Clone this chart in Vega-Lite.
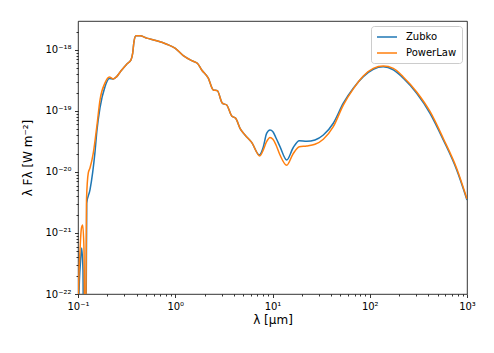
{
  "$schema": "https://vega.github.io/schema/vega-lite/v6.json",
  "width": 389,
  "height": 273,
  "autosize": {"type": "none"},
  "padding": {"left": 78, "top": 21, "right": 27, "bottom": 59},
  "background": "white",
  "config": {
    "view": {"stroke": "black", "strokeWidth": 0.8},
    "font": "DejaVu Sans"
  },
  "data": {
    "values": [
      {"lam": 0.1, "F": 1e-24, "s": "Zubko"},
      {"lam": 0.1024, "F": 1e-22, "s": "Zubko"},
      {"lam": 0.1061, "F": 3.35e-22, "s": "Zubko"},
      {"lam": 0.1091, "F": 5.68e-22, "s": "Zubko"},
      {"lam": 0.1125, "F": 2.47e-22, "s": "Zubko"},
      {"lam": 0.115, "F": 1e-24, "s": "Zubko"},
      {"lam": 0.1195, "F": 1e-24, "s": "Zubko"},
      {"lam": 0.1229, "F": 3.07e-21, "s": "Zubko"},
      {"lam": 0.1328, "F": 5.07e-21, "s": "Zubko"},
      {"lam": 0.1496, "F": 2.13e-20, "s": "Zubko"},
      {"lam": 0.1568, "F": 4.89e-20, "s": "Zubko"},
      {"lam": 0.1683, "F": 1.12e-19, "s": "Zubko"},
      {"lam": 0.1895, "F": 2.5e-19, "s": "Zubko"},
      {"lam": 0.2099, "F": 3.4e-19, "s": "Zubko"},
      {"lam": 0.2307, "F": 3.35e-19, "s": "Zubko"},
      {"lam": 0.25, "F": 3.65e-19, "s": "Zubko"},
      {"lam": 0.2703, "F": 4.31e-19, "s": "Zubko"},
      {"lam": 0.2922, "F": 5.01e-19, "s": "Zubko"},
      {"lam": 0.3168, "F": 5.83e-19, "s": "Zubko"},
      {"lam": 0.3508, "F": 6.86e-19, "s": "Zubko"},
      {"lam": 0.3651, "F": 8.83e-19, "s": "Zubko"},
      {"lam": 0.3765, "F": 1.37e-18, "s": "Zubko"},
      {"lam": 0.3948, "F": 1.7e-18, "s": "Zubko"},
      {"lam": 0.4341, "F": 1.7e-18, "s": "Zubko"},
      {"lam": 0.5085, "F": 1.56e-18, "s": "Zubko"},
      {"lam": 0.6447, "F": 1.41e-18, "s": "Zubko"},
      {"lam": 0.8167, "F": 1.24e-18, "s": "Zubko"},
      {"lam": 0.994, "F": 1.07e-18, "s": "Zubko"},
      {"lam": 1.21, "F": 8.07e-19, "s": "Zubko"},
      {"lam": 1.476, "F": 6.68e-19, "s": "Zubko"},
      {"lam": 1.686, "F": 6.05e-19, "s": "Zubko"},
      {"lam": 1.871, "F": 4.7e-19, "s": "Zubko"},
      {"lam": 2.187, "F": 3.44e-19, "s": "Zubko"},
      {"lam": 2.462, "F": 2.21e-19, "s": "Zubko"},
      {"lam": 2.707, "F": 2.15e-19, "s": "Zubko"},
      {"lam": 3.047, "F": 1.34e-19, "s": "Zubko"},
      {"lam": 3.381, "F": 1.25e-19, "s": "Zubko"},
      {"lam": 3.806, "F": 8.28e-20, "s": "Zubko"},
      {"lam": 4.183, "F": 7.59e-20, "s": "Zubko"},
      {"lam": 4.633, "F": 5.2e-20, "s": "Zubko"},
      {"lam": 5.214, "F": 4.04e-20, "s": "Zubko"},
      {"lam": 6.11, "F": 3.05e-20, "s": "Zubko"},
      {"lam": 7.316, "F": 1.9e-20, "s": "Zubko"},
      {"lam": 8.044, "F": 2.57e-20, "s": "Zubko"},
      {"lam": 8.7, "F": 4.3e-20, "s": "Zubko"},
      {"lam": 9.425, "F": 4.89e-20, "s": "Zubko"},
      {"lam": 10.1, "F": 4.58e-20, "s": "Zubko"},
      {"lam": 10.87, "F": 3.61e-20, "s": "Zubko"},
      {"lam": 11.94, "F": 2.6e-20, "s": "Zubko"},
      {"lam": 14.0, "F": 1.57e-20, "s": "Zubko"},
      {"lam": 16.25, "F": 2.47e-20, "s": "Zubko"},
      {"lam": 18.86, "F": 3.26e-20, "s": "Zubko"},
      {"lam": 22.47, "F": 3.18e-20, "s": "Zubko"},
      {"lam": 27.35, "F": 3.35e-20, "s": "Zubko"},
      {"lam": 33.31, "F": 4.04e-20, "s": "Zubko"},
      {"lam": 42.19, "F": 6.29e-20, "s": "Zubko"},
      {"lam": 53.46, "F": 1.34e-19, "s": "Zubko"},
      {"lam": 67.73, "F": 2.36e-19, "s": "Zubko"},
      {"lam": 85.85, "F": 3.65e-19, "s": "Zubko"},
      {"lam": 108.8, "F": 4.83e-19, "s": "Zubko"},
      {"lam": 137.8, "F": 5.3e-19, "s": "Zubko"},
      {"lam": 174.7, "F": 4.7e-19, "s": "Zubko"},
      {"lam": 221.3, "F": 3.44e-19, "s": "Zubko"},
      {"lam": 303.9, "F": 1.95e-19, "s": "Zubko"},
      {"lam": 416.4, "F": 9.16e-20, "s": "Zubko"},
      {"lam": 570.5, "F": 3.35e-20, "s": "Zubko"},
      {"lam": 783.8, "F": 1.08e-20, "s": "Zubko"},
      {"lam": 1000, "F": 3.48e-21, "s": "Zubko"},

      {"lam": 0.1, "F": 1e-24, "s": "PowerLaw"},
      {"lam": 0.1012, "F": 1e-22, "s": "PowerLaw"},
      {"lam": 0.1049, "F": 5.26e-22, "s": "PowerLaw"},
      {"lam": 0.1086, "F": 1.21e-21, "s": "PowerLaw"},
      {"lam": 0.1117, "F": 1.35e-21, "s": "PowerLaw"},
      {"lam": 0.1153, "F": 5.26e-22, "s": "PowerLaw"},
      {"lam": 0.1189, "F": 1e-24, "s": "PowerLaw"},
      {"lam": 0.1223, "F": 3.48e-21, "s": "PowerLaw"},
      {"lam": 0.1276, "F": 9.63e-21, "s": "PowerLaw"},
      {"lam": 0.1328, "F": 1.16e-20, "s": "PowerLaw"},
      {"lam": 0.1437, "F": 2.05e-20, "s": "PowerLaw"},
      {"lam": 0.1568, "F": 5.89e-20, "s": "PowerLaw"},
      {"lam": 0.1683, "F": 1.51e-19, "s": "PowerLaw"},
      {"lam": 0.1895, "F": 2.88e-19, "s": "PowerLaw"},
      {"lam": 0.2099, "F": 3.61e-19, "s": "PowerLaw"},
      {"lam": 0.2307, "F": 3.35e-19, "s": "PowerLaw"},
      {"lam": 0.25, "F": 3.65e-19, "s": "PowerLaw"},
      {"lam": 0.2703, "F": 4.31e-19, "s": "PowerLaw"},
      {"lam": 0.2922, "F": 5.01e-19, "s": "PowerLaw"},
      {"lam": 0.3168, "F": 5.83e-19, "s": "PowerLaw"},
      {"lam": 0.3508, "F": 6.86e-19, "s": "PowerLaw"},
      {"lam": 0.3651, "F": 8.83e-19, "s": "PowerLaw"},
      {"lam": 0.3765, "F": 1.37e-18, "s": "PowerLaw"},
      {"lam": 0.3948, "F": 1.7e-18, "s": "PowerLaw"},
      {"lam": 0.4341, "F": 1.7e-18, "s": "PowerLaw"},
      {"lam": 0.5085, "F": 1.56e-18, "s": "PowerLaw"},
      {"lam": 0.6447, "F": 1.41e-18, "s": "PowerLaw"},
      {"lam": 0.8167, "F": 1.24e-18, "s": "PowerLaw"},
      {"lam": 0.994, "F": 1.07e-18, "s": "PowerLaw"},
      {"lam": 1.21, "F": 8.07e-19, "s": "PowerLaw"},
      {"lam": 1.476, "F": 6.68e-19, "s": "PowerLaw"},
      {"lam": 1.686, "F": 6.05e-19, "s": "PowerLaw"},
      {"lam": 1.871, "F": 4.7e-19, "s": "PowerLaw"},
      {"lam": 2.187, "F": 3.44e-19, "s": "PowerLaw"},
      {"lam": 2.462, "F": 2.21e-19, "s": "PowerLaw"},
      {"lam": 2.707, "F": 2.15e-19, "s": "PowerLaw"},
      {"lam": 3.047, "F": 1.34e-19, "s": "PowerLaw"},
      {"lam": 3.381, "F": 1.25e-19, "s": "PowerLaw"},
      {"lam": 3.806, "F": 8.28e-20, "s": "PowerLaw"},
      {"lam": 4.183, "F": 7.59e-20, "s": "PowerLaw"},
      {"lam": 4.633, "F": 5.2e-20, "s": "PowerLaw"},
      {"lam": 5.214, "F": 4.04e-20, "s": "PowerLaw"},
      {"lam": 6.11, "F": 3.05e-20, "s": "PowerLaw"},
      {"lam": 7.4, "F": 1.83e-20, "s": "PowerLaw"},
      {"lam": 8.044, "F": 2.3e-20, "s": "PowerLaw"},
      {"lam": 8.7, "F": 3.14e-20, "s": "PowerLaw"},
      {"lam": 9.425, "F": 3.68e-20, "s": "PowerLaw"},
      {"lam": 10.1, "F": 3.44e-20, "s": "PowerLaw"},
      {"lam": 10.87, "F": 2.77e-20, "s": "PowerLaw"},
      {"lam": 11.94, "F": 1.9e-20, "s": "PowerLaw"},
      {"lam": 14.0, "F": 1.29e-20, "s": "PowerLaw"},
      {"lam": 16.25, "F": 1.97e-20, "s": "PowerLaw"},
      {"lam": 18.86, "F": 2.6e-20, "s": "PowerLaw"},
      {"lam": 22.47, "F": 2.67e-20, "s": "PowerLaw"},
      {"lam": 27.35, "F": 2.84e-20, "s": "PowerLaw"},
      {"lam": 33.31, "F": 3.44e-20, "s": "PowerLaw"},
      {"lam": 42.19, "F": 5.53e-20, "s": "PowerLaw"},
      {"lam": 53.46, "F": 1.25e-19, "s": "PowerLaw"},
      {"lam": 67.73, "F": 2.3e-19, "s": "PowerLaw"},
      {"lam": 85.85, "F": 3.75e-19, "s": "PowerLaw"},
      {"lam": 108.8, "F": 4.98e-19, "s": "PowerLaw"},
      {"lam": 137.8, "F": 5.45e-19, "s": "PowerLaw"},
      {"lam": 174.7, "F": 4.98e-19, "s": "PowerLaw"},
      {"lam": 221.3, "F": 3.61e-19, "s": "PowerLaw"},
      {"lam": 303.9, "F": 2.05e-19, "s": "PowerLaw"},
      {"lam": 416.4, "F": 9.8e-20, "s": "PowerLaw"},
      {"lam": 570.5, "F": 3.54e-20, "s": "PowerLaw"},
      {"lam": 783.8, "F": 1.14e-20, "s": "PowerLaw"},
      {"lam": 1000, "F": 3.61e-21, "s": "PowerLaw"}
    ]
  },
  "mark": {"type": "line", "clip": true, "strokeWidth": 1.5, "interpolate": "monotone"},
  "encoding": {
    "x": {
      "field": "lam",
      "type": "quantitative",
      "scale": {"type": "log", "domain": [0.1, 1000], "nice": false},
      "axis": {
        "values": [0.1, 0.2, 0.3, 0.4, 0.5, 0.6, 0.7, 0.8, 0.9, 1, 2, 3, 4, 5, 6, 7, 8, 9, 10, 20, 30, 40, 50, 60, 70, 80, 90, 100, 200, 300, 400, 500, 600, 700, 800, 900, 1000],
        "labelExpr": "abs(log(datum.value)/LN10 - round(log(datum.value)/LN10)) > 0.001 ? '' : round(log(datum.value)/LN10) == -1 ? '10⁻¹' : round(log(datum.value)/LN10) == 0 ? '10⁰' : round(log(datum.value)/LN10) == 1 ? '10¹' : round(log(datum.value)/LN10) == 2 ? '10²' : '10³'",
        "tickSize": {"condition": {"test": "abs(log(datum.value)/LN10 - round(log(datum.value)/LN10)) < 0.001", "value": 3.5}, "value": 2},
        "tickColor": "black",
        "tickWidth": 0.8,
        "domain": false,
        "grid": false,
        "labelFontSize": 10,
        "labelColor": "black",
        "labelPadding": 3.5,
        "labelOverlap": false,
        "labelFlush": false,
        "labelBound": false,
        "title": "λ [μm]",
        "titleFontSize": 12,
        "titleFontWeight": "normal",
        "titleColor": "black",
        "titlePadding": 3
      }
    },
    "y": {
      "field": "F",
      "type": "quantitative",
      "scale": {"type": "log", "domain": [1e-22, 2.98e-18], "nice": false},
      "axis": {
        "values": [1e-22, 2e-22, 3e-22, 4e-22, 5e-22, 6e-22, 7e-22, 8e-22, 9e-22, 1e-21, 2e-21, 3e-21, 4e-21, 5e-21, 6e-21, 7e-21, 8e-21, 9e-21, 1e-20, 2e-20, 3e-20, 4e-20, 5e-20, 6e-20, 7e-20, 8e-20, 9e-20, 1e-19, 2e-19, 3e-19, 4e-19, 5e-19, 6e-19, 7e-19, 8e-19, 9e-19, 1e-18, 2e-18],
        "labelExpr": "abs(log(datum.value)/LN10 - round(log(datum.value)/LN10)) > 0.001 ? '' : round(log(datum.value)/LN10) == -22 ? '10⁻²²' : round(log(datum.value)/LN10) == -21 ? '10⁻²¹' : round(log(datum.value)/LN10) == -20 ? '10⁻²⁰' : round(log(datum.value)/LN10) == -19 ? '10⁻¹⁹' : '10⁻¹⁸'",
        "tickSize": {"condition": {"test": "abs(log(datum.value)/LN10 - round(log(datum.value)/LN10)) < 0.001", "value": 3.5}, "value": 2},
        "tickColor": "black",
        "tickWidth": 0.8,
        "domain": false,
        "grid": false,
        "labelFontSize": 10,
        "labelColor": "black",
        "labelPadding": 3.5,
        "labelOverlap": false,
        "labelFlush": false,
        "labelBound": false,
        "title": "λ Fλ [W m⁻²]",
        "titleFontSize": 12,
        "titleFontWeight": "normal",
        "titleColor": "black",
        "titlePadding": 10
      }
    },
    "color": {
      "field": "s",
      "type": "nominal",
      "scale": {"domain": ["Zubko", "PowerLaw"], "range": ["#1f77b4", "#ff7f0e"]},
      "legend": {
        "title": null,
        "orient": "top-right",
        "offset": 5,
        "padding": 5,
        "fillColor": "white",
        "strokeColor": "#cccccc",
        "cornerRadius": 3,
        "symbolType": "M-1,0H3",
        "symbolSize": 100,
        "symbolStrokeWidth": 1.5,
        "symbolOpacity": 1,
        "labelFontSize": 10,
        "labelColor": "black",
        "labelOffset": 18,
        "rowPadding": 5
      }
    }
  }
}
